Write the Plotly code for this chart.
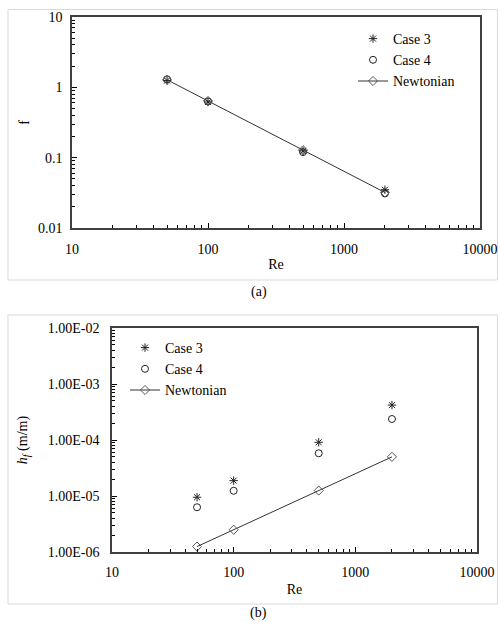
import plotly.graph_objects as go

# ---- data ----
re_vals = [50, 100, 500, 2000]
f_case3 = [1.25, 0.62, 0.125, 0.035]
f_case4 = [1.30, 0.63, 0.120, 0.031]
f_newt = [1.28, 0.64, 0.128, 0.032]

hf_case3 = [9.5e-6, 1.88e-5, 9.1e-5, 4.2e-4]
hf_case4 = [6.3e-6, 1.24e-5, 5.8e-5, 2.37e-4]
hf_newt = [1.25e-6, 2.5e-6, 1.25e-5, 5.0e-5]

x_ticks = [10, 100, 1000, 10000]
x_ticktext = ["10", "100", "1000", "10000"]
fa_ticks = [0.01, 0.1, 1, 10]
fa_ticktext = ["0.01", "0.1", "1", "10"]
hb_ticks = [1e-6, 1e-5, 1e-4, 1e-3, 1e-2]
hb_ticktext = ["1.00E-06", "1.00E-05", "1.00E-04", "1.00E-03", "1.00E-02"]

W, H = 498, 622
FONT = "Liberation Serif, Times New Roman, serif"
AX = "#404040"


def px_x(p):
    return p / W


def px_y(p):
    return 1 - p / H


def mk(sym, color="#222"):
    return dict(symbol=sym, size=7, color=color, line=dict(width=1, color=color))


fig = go.Figure()

# ---- panel (a) ----
fig.add_trace(go.Scatter(x=re_vals, y=f_case3, mode="markers", name="Case 3",
                         marker=mk("asterisk-open"), xaxis="x", yaxis="y", legend="legend"))
fig.add_trace(go.Scatter(x=re_vals, y=f_case4, mode="markers", name="Case 4",
                         marker=mk("circle-open"), xaxis="x", yaxis="y", legend="legend"))
fig.add_trace(go.Scatter(x=re_vals, y=f_newt, mode="lines+markers", name="Newtonian",
                         line=dict(color="#333", width=1), marker=mk("diamond-open", "#555"),
                         xaxis="x", yaxis="y", legend="legend"))

# ---- panel (b) ----
fig.add_trace(go.Scatter(x=re_vals, y=hf_case3, mode="markers", name="Case 3",
                         marker=mk("asterisk-open"), xaxis="x2", yaxis="y2", legend="legend2"))
fig.add_trace(go.Scatter(x=re_vals, y=hf_case4, mode="markers", name="Case 4",
                         marker=mk("circle-open"), xaxis="x2", yaxis="y2", legend="legend2"))
fig.add_trace(go.Scatter(x=re_vals, y=hf_newt, mode="lines+markers", name="Newtonian",
                         line=dict(color="#333", width=1), marker=mk("diamond-open", "#555"),
                         xaxis="x2", yaxis="y2", legend="legend2"))

axis_common = dict(type="log", showgrid=False, zeroline=False, showline=True,
                   linecolor=AX, linewidth=1.5, mirror=True, ticks="inside",
                   ticklen=5, tickcolor="black", tickwidth=1, automargin=False,
                   tickfont=dict(family=FONT, size=14, color="black"))

MINOR = dict(tickmode="linear", dtick="D1", ticks="inside", ticklen=3,
             tickcolor="black", tickwidth=1, showgrid=False)

fig.update_layout(
    width=W, height=H, autosize=False,
    margin=dict(l=0, r=0, t=0, b=0, pad=0),
    paper_bgcolor="white", plot_bgcolor="white",
    font=dict(family=FONT, size=14, color="black"),
    xaxis=dict(**axis_common, domain=[px_x(72), px_x(480)], anchor="y",
               range=[1, 4], tickmode="array", tickvals=x_ticks, ticktext=x_ticktext,
               minor=MINOR, ticklabelstandoff=7,
               title=dict(text="Re", font=dict(family=FONT, size=14), standoff=4)),
    yaxis=dict(**axis_common, domain=[px_y(228), px_y(17)], anchor="x",
               range=[-2, 1], tickmode="array", tickvals=fa_ticks, ticktext=fa_ticktext,
               minor=MINOR, ticklabelstandoff=5,
               title=dict(text="f", font=dict(family=FONT, size=14), standoff=5)),
    xaxis2=dict(**axis_common, domain=[px_x(112), px_x(477)], anchor="y2",
                range=[1, 4], tickmode="array", tickvals=x_ticks, ticktext=x_ticktext,
                minor=MINOR, ticklabelstandoff=6,
                title=dict(text="Re", font=dict(family=FONT, size=14), standoff=6)),
    yaxis2=dict(**axis_common, domain=[px_y(552), px_y(328)], anchor="x2",
                range=[-6, -2], tickmode="array", tickvals=hb_ticks, ticktext=hb_ticktext,
                minor=MINOR, ticklabelstandoff=8,
                title=dict(text="<i>h<sub>f</sub></i> (m/m)", font=dict(family=FONT, size=14),
                           standoff=17)),
    legend=dict(x=px_x(353), y=px_y(23), xanchor="left", yanchor="top",
                bgcolor="rgba(0,0,0,0)", font=dict(family=FONT, size=14)),
    legend2=dict(x=px_x(125), y=px_y(332), xanchor="left", yanchor="top",
                 bgcolor="rgba(0,0,0,0)", font=dict(family=FONT, size=14)),
    showlegend=True,
    shapes=[
        dict(type="rect", xref="paper", yref="paper", x0=px_x(8), x1=px_x(497.5),
             y0=px_y(280), y1=px_y(9.5), line=dict(color="#d9d9d9", width=1), layer="below"),
        dict(type="rect", xref="paper", yref="paper", x0=px_x(8), x1=px_x(497.5),
             y0=px_y(604), y1=px_y(315), line=dict(color="#d9d9d9", width=1), layer="below"),
    ],
    annotations=[
        dict(text="(a)", xref="paper", yref="paper", x=px_x(259), y=px_y(292),
             xanchor="center", yanchor="middle",
             showarrow=False, font=dict(family=FONT, size=14)),
        dict(text="(b)", xref="paper", yref="paper", x=px_x(258), y=px_y(613),
             xanchor="center", yanchor="middle",
             showarrow=False, font=dict(family=FONT, size=14)),
    ],
)

fig.write_html("out.html", config={"displayModeBar": False},
               post_script="document.body.style.margin='0';")
